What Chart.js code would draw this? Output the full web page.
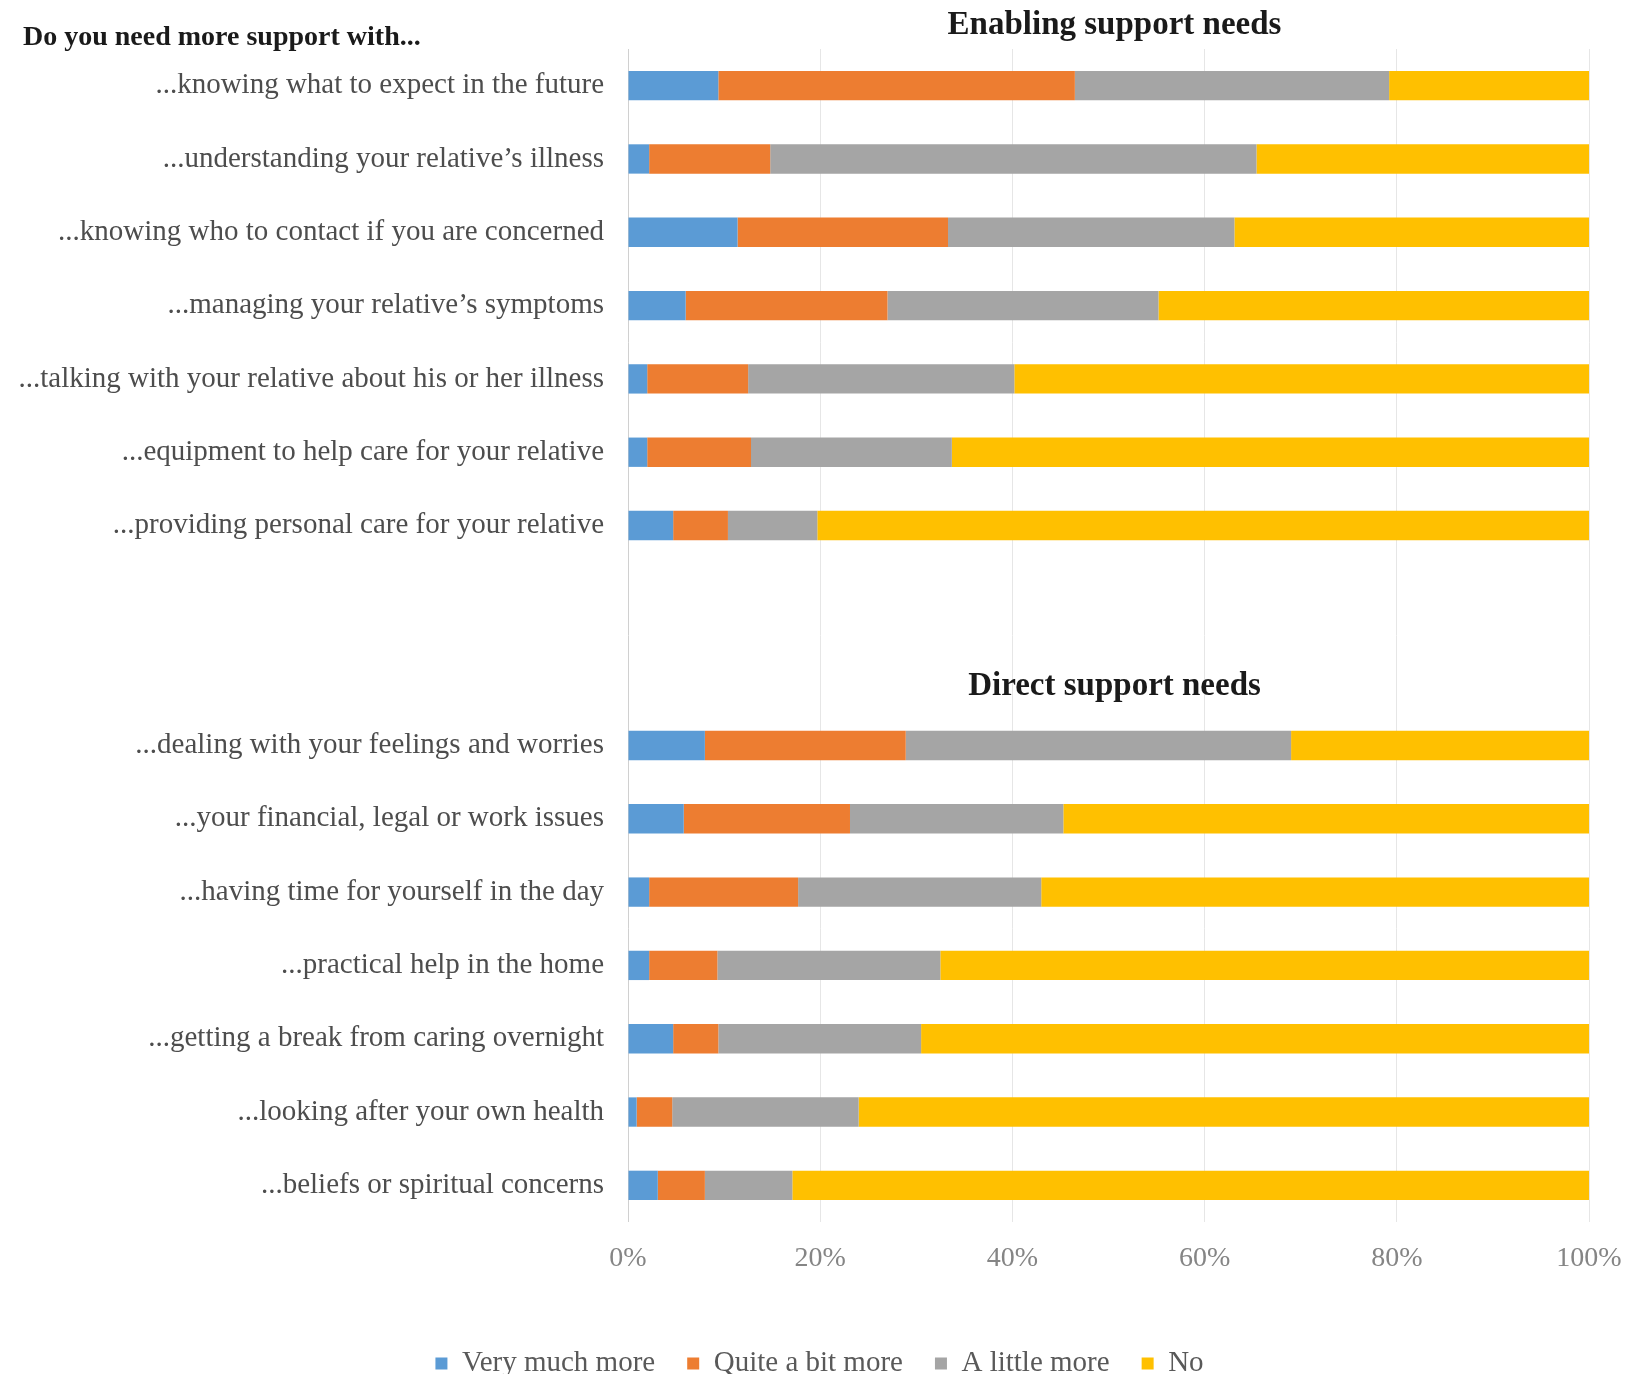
<!DOCTYPE html>
<html>
<head>
<meta charset="utf-8">
<script src="https://cdn.jsdelivr.net/npm/chart.js@4.4.1/dist/chart.umd.min.js"></script>
<style>
  html, body { margin: 0; padding: 0; background: #fff; overflow: hidden; }
  #wrap { position: relative; width: 1648px; height: 1388px; }
</style>
</head>
<body>
<div id="wrap"><canvas id="chart"></canvas></div>
<script>
// rows top to bottom
const enablingLabels = [
  '...knowing what to expect in the future',
  '...understanding your relative\u2019s illness',
  '...knowing who to contact if you are concerned',
  '...managing your relative\u2019s symptoms',
  '...talking with your relative about his or her illness',
  '...equipment to help care for your relative',
  '...providing personal care for your relative'
];
const directLabels = [
  '...dealing with your feelings and worries',
  '...your financial, legal or work issues',
  '...having time for yourself in the day',
  '...practical help in the home',
  '...getting a break from caring overnight',
  '...looking after your own health',
  '...beliefs or spiritual concerns'
];

const seriesNames = ['Very much more', 'Quite a bit more', 'A little more', 'No'];
const seriesColors = ['#5B9BD5', '#ED7D31', '#A5A5A5', '#FFC000'];

// percentages
const veryMuchEnabling  = [9.4, 2.2, 11.4, 6.0, 2.0, 2.0, 4.7];
const quiteABitEnabling = [37.1, 12.6, 21.9, 21.0, 10.5, 10.8, 5.7];
const littleEnabling    = [32.7, 50.6, 29.8, 28.2, 27.7, 20.9, 9.3];
const noEnabling        = [20.8, 34.6, 36.9, 44.8, 59.8, 66.3, 80.3];

const veryMuchDirect  = [8.0, 5.8, 2.2, 2.2, 4.7, 0.9, 3.1];
const quiteABitDirect = [20.9, 17.3, 15.5, 7.1, 4.7, 3.7, 4.9];
const littleDirect    = [40.1, 22.2, 25.3, 23.2, 21.1, 19.4, 9.1];
const noDirect        = [31.0, 54.7, 57.0, 67.5, 69.5, 76.0, 82.9];

const xTicks = [0, 20, 40, 60, 80, 100];

// two empty slots separate the groups
const gap = ['', ''];
const categories = [...enablingLabels, ...gap, ...directLabels];
const seriesData = [
  [...veryMuchEnabling, null, null, ...veryMuchDirect],
  [...quiteABitEnabling, null, null, ...quiteABitDirect],
  [...littleEnabling, null, null, ...littleDirect],
  [...noEnabling, null, null, ...noDirect]
];

const serif = '"Liberation Serif", "Times New Roman", serif';

// section headings and the question text
const headings = {
  id: 'headings',
  afterLayout(chart) {
    // legend sits a little right of the canvas centre
    chart.legend.left += 25;
    chart.legend.right += 25;
  },
  afterDraw(chart) {
    const { ctx, chartArea, scales } = chart;
    const mid = (chartArea.left + chartArea.right) / 2 + 6;
    ctx.save();
    ctx.fillStyle = '#1a1a1a';
    ctx.textBaseline = 'middle';
    ctx.textAlign = 'center';
    ctx.font = 'bold 33px ' + serif;
    ctx.fillText('Enabling support needs', mid, 25);
    ctx.fillText('Direct support needs', mid, scales.y.getPixelForValue(8) + 14);
    ctx.textAlign = 'left';
    ctx.font = 'bold 28px ' + serif;
    ctx.fillText('Do you need more support with...', 23, 38);
    ctx.restore();
  }
};

new Chart(document.getElementById('chart').getContext('2d'), {
  type: 'bar',
  data: {
    labels: categories,
    datasets: seriesNames.map((name, i) => ({
      label: name,
      data: seriesData[i],
      backgroundColor: seriesColors[i],
      borderWidth: 0,
      categoryPercentage: 1,
      barPercentage: 0.4
    }))
  },
  options: {
    indexAxis: 'y',
    responsive: true,
    maintainAspectRatio: false,
    animation: false,
    layout: {
      padding: { top: 49, left: 0, right: 59, bottom: 0 }
    },
    plugins: {
      legend: {
        position: 'bottom',
        labels: {
          boxWidth: 12,
          boxHeight: 12,
          padding: 32,
          color: '#595959',
          font: { family: serif, size: 29 }
        }
      },
      tooltip: { enabled: false }
    },
    scales: {
      x: {
        stacked: true,
        min: 0,
        max: 100,
        afterBuildTicks(scale) {
          scale.ticks = xTicks.map(v => ({ value: v }));
        },
        afterFit(scale) {
          scale.height = 95;
        },
        ticks: {
          padding: 20,
          color: '#858585',
          font: { family: serif, size: 28 },
          callback: v => v + '%'
        },
        grid: {
          drawTicks: false,
          color: ctx => ctx.tick && ctx.tick.value === 0 ? '#d0d0d0' : '#e6e6e6'
        },
        border: { display: false }
      },
      y: {
        stacked: true,
        afterFit(scale) {
          scale.width = 628;
        },
        ticks: {
          padding: 24,
          color: '#4d4d4d',
          font: { family: serif, size: 29 }
        },
        grid: { display: false, drawTicks: false },
        border: { display: false }
      }
    }
  },
  plugins: [headings]
});
</script>
</body>
</html>
